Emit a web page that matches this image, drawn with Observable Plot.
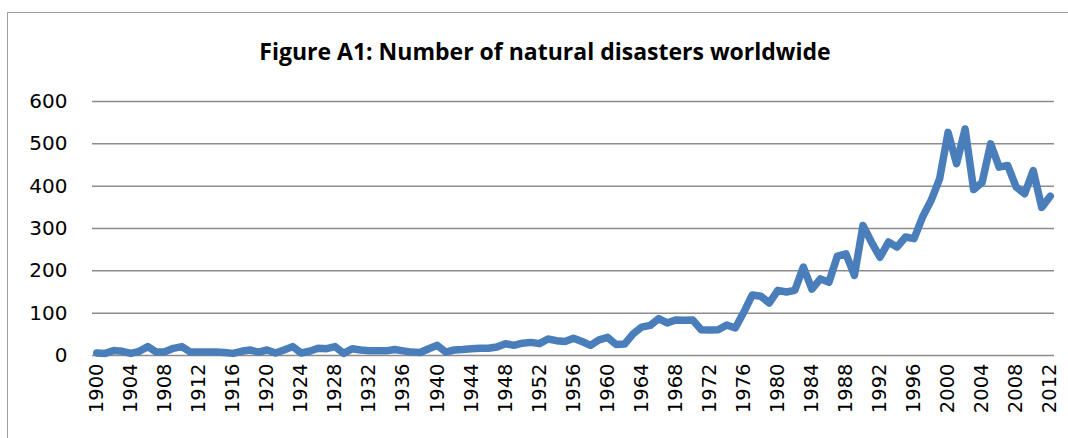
<!DOCTYPE html>
<html>
<head>
<meta charset="utf-8">
<script src="https://cdn.jsdelivr.net/npm/d3@7"></script>
<script src="https://cdn.jsdelivr.net/npm/@observablehq/plot@0.6"></script>
<style>
  html, body { margin: 0; padding: 0; background: #fff; }
  #wrap { position: relative; width: 1068px; height: 438px; overflow: hidden; }
  #frame { position: absolute; left: 7px; top: 12px; width: 1080px; height: 460px; border: 1.5px solid #a0a0a0; box-sizing: border-box; }
  #title { position: absolute; left: 0; top: 35px; width: 1090px; text-align: center; font: bold 23px "Open Sans", Lato, sans-serif; line-height: 32px; color: #000; }
  #chart { position: absolute; left: 0; top: 90px; }
</style>
</head>
<body>
<div id="wrap">
  <div id="frame"></div>
  <div id="title">Figure A1: Number of natural disasters worldwide</div>
  <div id="chart"></div>
</div>
<script>
const years = d3.range(1900, 2013);
const disasters = [
  6, 5, 12, 10, 5, 10, 21, 8, 9, 17,
  21, 8, 8, 8, 8, 7, 5, 10, 13, 8,
  13, 6, 13, 21, 6, 10, 17, 16, 21, 5,
  16, 13, 11, 11, 11, 14, 11, 8, 7, 16,
  24, 8, 13, 14, 16, 17, 17, 20, 28, 24,
  29, 31, 28, 39, 35, 33, 41, 33, 24, 37,
  43, 26, 27, 51, 67, 71, 87, 77, 84, 83,
  84, 61, 60, 61, 72, 65, 102, 143, 140, 124,
  154, 150, 154, 209, 157, 181, 173, 235, 240, 189,
  307, 268, 232, 268, 256, 280, 276, 327, 366, 417,
  527, 453, 535, 392, 409, 500, 445, 449, 398, 382,
  437, 350, 376
];
const yTicks = [0, 100, 200, 300, 400, 500, 600];
const xTicks = d3.range(1900, 2013, 4);

const data = years.map((y, i) => ({year: y, value: disasters[i]}));

const chart = Plot.plot({
  width: 1068,
  height: 348,
  marginLeft: 92,
  marginRight: 14,
  marginTop: 11,
  marginBottom: 83,
  style: {background: "transparent", overflow: "visible"},
  x: {domain: [1899.5, 2012.5], axis: null},
  y: {domain: [0, 600], axis: null},
  marks: [
    Plot.gridY(yTicks, {stroke: "#8c8c8c", strokeOpacity: 1, strokeWidth: 1.5}),
    Plot.axisY(yTicks, {label: null, tickSize: 0, tickPadding: 25, fontSize: 20, fontFamily: "DejaVu Sans, sans-serif", fill: "#000"}),
    Plot.axisX(xTicks, {label: null, tickSize: 0, tickPadding: 8, tickRotate: -90, tickFormat: d => String(d), fontSize: 19.5, fontFamily: "DejaVu Sans, sans-serif", fill: "#000"}),
    Plot.line(data, {x: "year", y: "value", stroke: "#4a7ebb", strokeWidth: 7.5, strokeLinejoin: "round", strokeLinecap: "round"})
  ]
});
document.getElementById("chart").appendChild(chart);
</script>
</body>
</html>
